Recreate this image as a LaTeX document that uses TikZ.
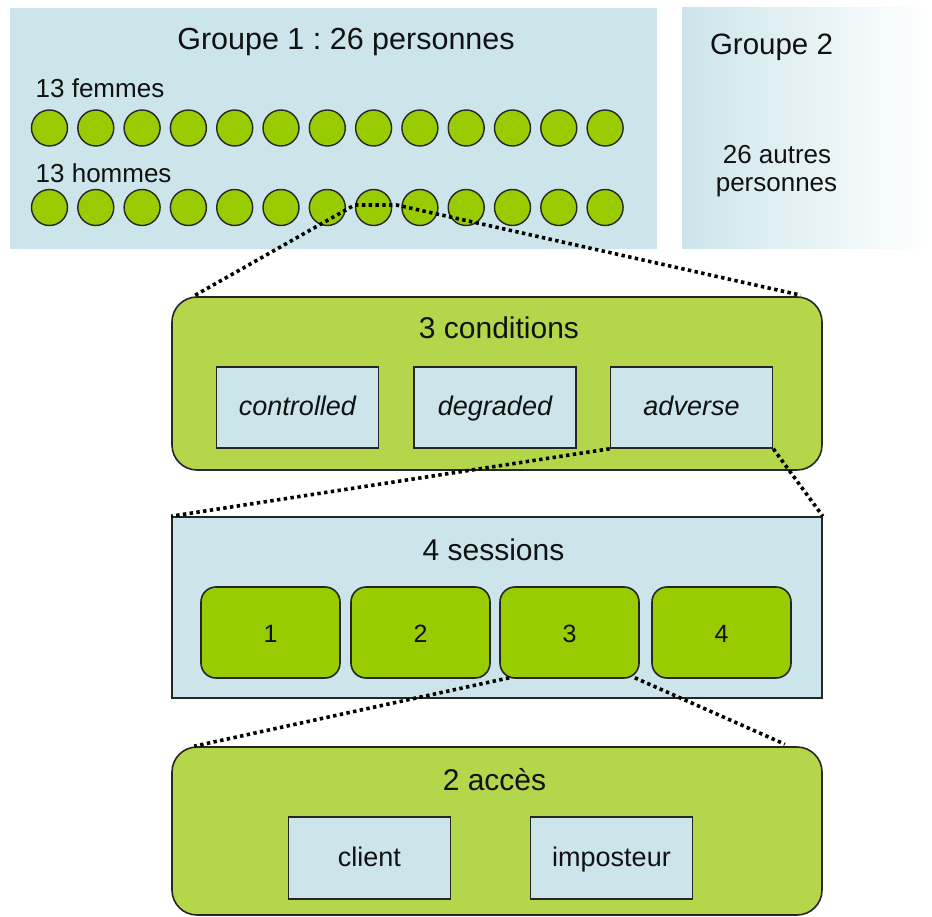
\documentclass[tikz,border=0pt]{standalone}
\usepackage{fontspec}
\setmainfont{Liberation Sans}
\usetikzlibrary{calc}
\frenchspacing
\definecolor{lblue}{HTML}{CCE5EA}
\definecolor{cgreen}{HTML}{B4D64A}
\definecolor{pgreen}{HTML}{99CC00}
\definecolor{edge}{HTML}{262626}
\definecolor{ink}{HTML}{111111}
\newcommand{\fs}[1]{\fontsize{#1}{#1}\selectfont}
\begin{document}
\begin{tikzpicture}[x=1pt,y=-1pt,
  txt/.style={inner sep=0pt, text=ink},
  person/.style={circle, minimum size=36pt, inner sep=0pt, fill=pgreen, draw=edge, line width=1.4pt},
  bigbox/.style={rectangle, inner sep=0pt, minimum width=650pt},
  greenround/.style={bigbox, fill=cgreen, draw=edge, line width=1.6pt, rounded corners=25pt},
  bluebox/.style={rectangle, inner sep=0pt, fill=lblue, draw=edge, line width=1.6pt, text=ink},
  sessbox/.style={rectangle, inner sep=0pt, fill=pgreen, draw=edge, line width=1.6pt, rounded corners=15pt, minimum width=139pt, minimum height=91pt, text=ink, text height=22pt, text depth=3pt},
  zoomline/.style={draw=black, line width=3.6pt, dash pattern=on 3.4pt off 3.4pt}
]
\useasboundingbox (0,0) rectangle (932,917);
\fill[white] (0,0) rectangle (932,917);

% Groupe 1
\node[rectangle, fill=lblue, minimum width=647pt, minimum height=241pt, inner sep=0pt] (g1) at (333.5,128.5) {};
\node[txt, anchor=base] (g1t) at (346,50) {\fs{30.5}Groupe 1 : 26 personnes};
\node[txt, anchor=base west] (fem) at (35.5,98) {\fs{26}13 femmes};
\node[txt, anchor=base west] (hom) at (35.5,183) {\fs{26}13 hommes};
\foreach \i in {1,...,13} {
  \node[person] (f\i) at ({49.5+46.3*(\i-1)},128) {};
  \node[person] (h\i) at ({49.5+46.3*(\i-1)},207.5) {};
}

% Groupe 2
\node[rectangle, inner sep=0pt, minimum width=250pt, minimum height=241pt, left color=lblue, right color=white] (g2) at (807,128.5) {};
\node[txt, anchor=base] (g2t) at (771.5,55) {\fs{29.5}Groupe 2};
\node[txt, anchor=base] (g2b) at (777,164) {\fs{26}26 autres};
\node[txt, anchor=base] (g2c) at (776.5,192) {\fs{26}personnes};

% 3 conditions
\node[greenround, minimum height=173pt] (cond) at (497,383.5) {};
\node[txt, anchor=base] (condt) at (499,338) {\fs{30}3 conditions};
\node[bluebox, minimum width=162pt, minimum height=81pt, text height=20pt, text depth=5pt] (ctrl) at (297.5,407.5) {\fs{27}\itshape controlled};
\node[bluebox, minimum width=162pt, minimum height=81pt, text height=20pt, text depth=5pt] (degr) at (495,407.5) {\fs{27}\itshape degraded};
\node[bluebox, minimum width=162pt, minimum height=81pt, text height=20pt, text depth=5pt] (adv) at (691.5,407.5) {\fs{27}\itshape adverse};

% 4 sessions
\node[bigbox, fill=lblue, draw=edge, line width=1.6pt, minimum height=181pt] (sess) at (497,607.5) {};
\node[txt, anchor=base] (sesst) at (493.5,560) {\fs{30}4 sessions};
\node[sessbox] (s1) at (270.5,632.5) {\fs{25}1};
\node[sessbox] (s2) at (420.5,632.5) {\fs{25}2};
\node[sessbox] (s3) at (569.5,632.5) {\fs{25}3};
\node[sessbox] (s4) at (721.5,632.5) {\fs{25}4};

% 2 acces
\node[greenround, minimum height=168pt] (acc) at (497,831) {};
\node[txt, anchor=base] (acct) at (494.5,790) {\fs{30}2 accès};
\node[bluebox, minimum width=162pt, minimum height=82pt, text height=21pt, text depth=4pt] (cli) at (369.5,858) {\fs{27}client};
\node[bluebox, minimum width=162pt, minimum height=82pt, text height=21pt, text depth=4pt] (imp) at (611.5,858) {\fs{27}imposteur};

% zoom connectors
\coordinate (h8l) at ($(h8.center)+(-19,-2.5)$);
\coordinate (h8r) at ($(h8.center)+(23,-2.5)$);
\coordinate (cl) at ($(cond.north west)+(24,-1)$);
\coordinate (cr) at ($(cond.north east)+(-22,-1)$);
\draw[zoomline] (cl) -- (h8l) -- (h8r) -- (cr);
\draw[zoomline] (adv.south west) -- (sess.north west);
\draw[zoomline] (adv.south east) -- (sess.north east);
\coordinate (al) at ($(acc.north west)+(23,0)$);
\coordinate (ar) at ($(acc.north east)+(-38,-2)$);
\draw[zoomline] ($(s3.south west)+(10,-1)$) -- (al);
\draw[zoomline] ($(s3.south east)+(-5,-1)$) -- (ar);
\end{tikzpicture}
\end{document}
